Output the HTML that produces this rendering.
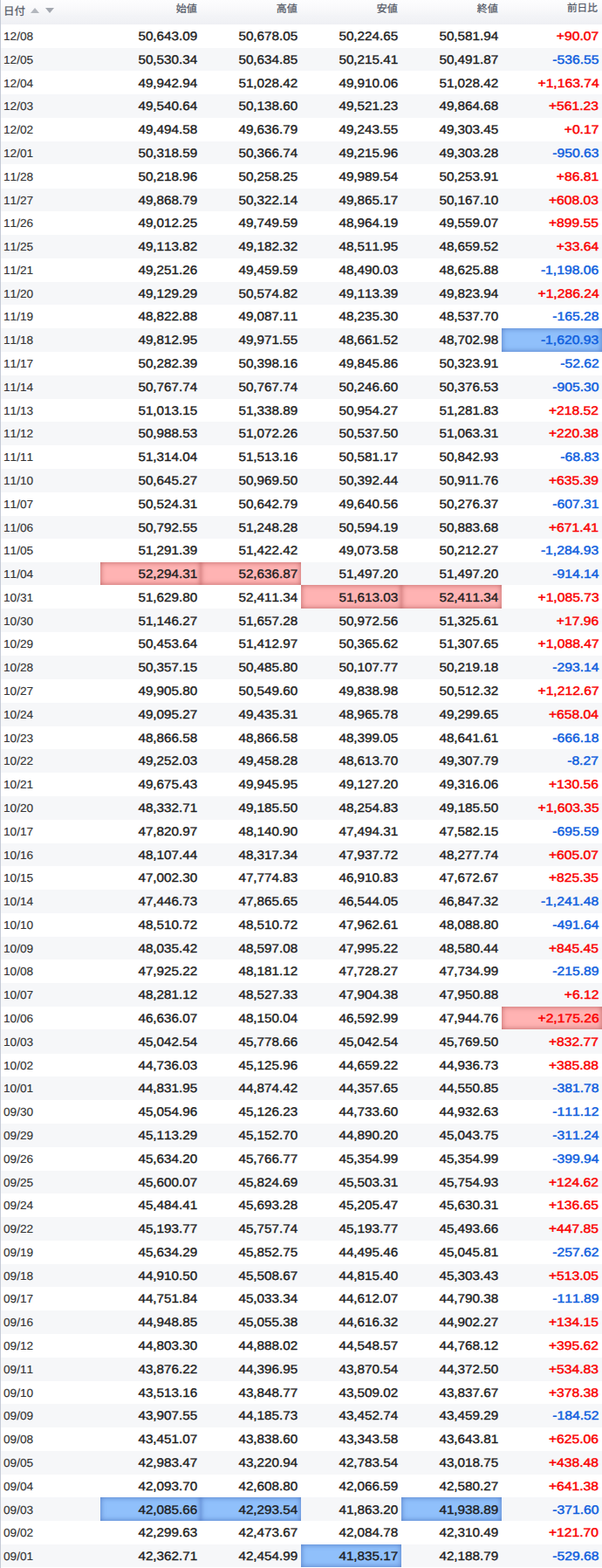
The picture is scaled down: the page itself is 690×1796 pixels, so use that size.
<!DOCTYPE html><html><head><meta charset="utf-8"><title>table</title><style>
html,body{margin:0;padding:0;background:#fff;}
body{width:690px;height:1796px;overflow:hidden;font-family:"Liberation Sans",sans-serif;font-kerning:none;font-feature-settings:"kern" 0;text-rendering:geometricPrecision;}
#t{position:relative;width:690px;height:1796px;overflow:hidden;background:#fff;}
#lb{position:absolute;left:0;top:0;width:1px;height:1796px;background:#c4cad6;z-index:5;}
.h{position:absolute;left:0;top:0;width:690px;height:28px;background:linear-gradient(#fdfdfe 0%,#f9f9fb 35%,#f3f4f7 65%,#eff0f4 100%);}
.ht{position:absolute;font-family:"Liberation Sans","Noto Sans CJK JP",sans-serif;color:#555b68;white-space:nowrap;font-size:12px;line-height:12.3px;height:12.3px;-webkit-text-stroke:0.25px #555b68;}
.r{box-sizing:content-box;position:absolute;left:0;width:690px;line-height:26px;display:flex;white-space:nowrap;}
.r.e{background:#f6f7f9;}
.c{width:115px;box-sizing:border-box;text-align:right;padding-right:3.8px;font-size:14px;color:#1c1c1c;-webkit-text-stroke:0.36px;}
.c i{font-style:normal;display:inline-block;transform:scaleX(1.09);transform-origin:100% 50%;position:relative;top:calc(var(--o) + 0px);}
.c.p i,.c.m i{transform:scaleX(1.12);-webkit-text-stroke:0.45px;}
.d{width:115px;box-sizing:border-box;text-align:left;padding-left:4.0px;font-size:13px;color:#333;-webkit-text-stroke:0.12px;}
.d i{font-style:normal;display:inline-block;transform:scaleX(1.05);transform-origin:0 50%;position:relative;top:calc(var(--o) + 1px);}
.p{color:#fa0000;}
.m{color:#0e5ede;}
.hr{background:#ffb3b3;box-shadow:inset 0 0 6px rgba(120,20,20,.5);}
.hb{background:#90c0fb;box-shadow:inset 0 0 6px rgba(20,50,140,.5);}
</style></head><body><div id="t">
<div class="h"><span class="ht" style="top:7.4px;left:4.0px;font-size:12.4px;line-height:12.4px;height:12.4px;">日付</span><svg style="position:absolute;left:34.8px;top:9.1px" width="10" height="7" viewBox="0 0 10 7"><polygon points="0,6 5,0 10,6" fill="#b3b7be"/></svg><svg style="position:absolute;left:51.6px;top:9.1px" width="10" height="7" viewBox="0 0 10 7"><polygon points="0,0 10,0 5,6" fill="#a3a7af"/></svg><span class="ht" style="top:4.4px;right:464.2px;">始値</span><span class="ht" style="top:4.4px;right:349.2px;">高値</span><span class="ht" style="top:4.4px;right:234.2px;">安値</span><span class="ht" style="top:4.4px;right:119.2px;">終値</span><span class="ht" style="top:4.4px;right:5.2px;font-size:11.6px;">前日比</span></div>
<div class="r" style="top:28px;height:27px;--o:0px"><div class="d"><i>12/08</i></div><div class="c"><i>50,643.09</i></div><div class="c"><i>50,678.05</i></div><div class="c"><i>50,224.65</i></div><div class="c"><i>50,581.94</i></div><div class="c p"><i>+90.07</i></div></div>
<div class="r e" style="top:55px;height:26px;--o:0px"><div class="d"><i>12/05</i></div><div class="c"><i>50,530.34</i></div><div class="c"><i>50,634.85</i></div><div class="c"><i>50,215.41</i></div><div class="c"><i>50,491.87</i></div><div class="c m"><i>-536.55</i></div></div>
<div class="r" style="top:81px;height:27px;--o:1px"><div class="d"><i>12/04</i></div><div class="c"><i>49,942.94</i></div><div class="c"><i>51,028.42</i></div><div class="c"><i>49,910.06</i></div><div class="c"><i>51,028.42</i></div><div class="c p"><i>+1,163.74</i></div></div>
<div class="r e" style="top:108px;height:27px;--o:0px"><div class="d"><i>12/03</i></div><div class="c"><i>49,540.64</i></div><div class="c"><i>50,138.60</i></div><div class="c"><i>49,521.23</i></div><div class="c"><i>49,864.68</i></div><div class="c p"><i>+561.23</i></div></div>
<div class="r" style="top:135px;height:27px;--o:0px"><div class="d"><i>12/02</i></div><div class="c"><i>49,494.58</i></div><div class="c"><i>49,636.79</i></div><div class="c"><i>49,243.55</i></div><div class="c"><i>49,303.45</i></div><div class="c p"><i>+0.17</i></div></div>
<div class="r e" style="top:162px;height:26px;--o:0px"><div class="d"><i>12/01</i></div><div class="c"><i>50,318.59</i></div><div class="c"><i>50,366.74</i></div><div class="c"><i>49,215.96</i></div><div class="c"><i>49,303.28</i></div><div class="c m"><i>-950.63</i></div></div>
<div class="r" style="top:188px;height:28px;--o:1px"><div class="d"><i>11/28</i></div><div class="c"><i>50,218.96</i></div><div class="c"><i>50,258.25</i></div><div class="c"><i>49,989.54</i></div><div class="c"><i>50,253.91</i></div><div class="c p"><i>+86.81</i></div></div>
<div class="r e" style="top:216px;height:26px;--o:0px"><div class="d"><i>11/27</i></div><div class="c"><i>49,868.79</i></div><div class="c"><i>50,322.14</i></div><div class="c"><i>49,865.17</i></div><div class="c"><i>50,167.10</i></div><div class="c p"><i>+608.03</i></div></div>
<div class="r" style="top:242px;height:27px;--o:0px"><div class="d"><i>11/26</i></div><div class="c"><i>49,012.25</i></div><div class="c"><i>49,749.59</i></div><div class="c"><i>48,964.19</i></div><div class="c"><i>49,559.07</i></div><div class="c p"><i>+899.55</i></div></div>
<div class="r e" style="top:269px;height:27px;--o:0px"><div class="d"><i>11/25</i></div><div class="c"><i>49,113.82</i></div><div class="c"><i>49,182.32</i></div><div class="c"><i>48,511.95</i></div><div class="c"><i>48,659.52</i></div><div class="c p"><i>+33.64</i></div></div>
<div class="r" style="top:296px;height:27px;--o:0px"><div class="d"><i>11/21</i></div><div class="c"><i>49,251.26</i></div><div class="c"><i>49,459.59</i></div><div class="c"><i>48,490.03</i></div><div class="c"><i>48,625.88</i></div><div class="c m"><i>-1,198.06</i></div></div>
<div class="r e" style="top:323px;height:26px;--o:0px"><div class="d"><i>11/20</i></div><div class="c"><i>49,129.29</i></div><div class="c"><i>50,574.82</i></div><div class="c"><i>49,113.39</i></div><div class="c"><i>49,823.94</i></div><div class="c p"><i>+1,286.24</i></div></div>
<div class="r" style="top:349px;height:27px;--o:0px"><div class="d"><i>11/19</i></div><div class="c"><i>48,822.88</i></div><div class="c"><i>49,087.11</i></div><div class="c"><i>48,235.30</i></div><div class="c"><i>48,537.70</i></div><div class="c m"><i>-165.28</i></div></div>
<div class="r e" style="top:376px;height:27px;--o:0px"><div class="d"><i>11/18</i></div><div class="c"><i>49,812.95</i></div><div class="c"><i>49,971.55</i></div><div class="c"><i>48,661.52</i></div><div class="c"><i>48,702.98</i></div><div class="c m hb"><i>-1,620.93</i></div></div>
<div class="r" style="top:403px;height:27px;--o:0px"><div class="d"><i>11/17</i></div><div class="c"><i>50,282.39</i></div><div class="c"><i>50,398.16</i></div><div class="c"><i>49,845.86</i></div><div class="c"><i>50,323.91</i></div><div class="c m"><i>-52.62</i></div></div>
<div class="r e" style="top:430px;height:27px;--o:0px"><div class="d"><i>11/14</i></div><div class="c"><i>50,767.74</i></div><div class="c"><i>50,767.74</i></div><div class="c"><i>50,246.60</i></div><div class="c"><i>50,376.53</i></div><div class="c m"><i>-905.30</i></div></div>
<div class="r" style="top:457px;height:26px;--o:0px"><div class="d"><i>11/13</i></div><div class="c"><i>51,013.15</i></div><div class="c"><i>51,338.89</i></div><div class="c"><i>50,954.27</i></div><div class="c"><i>51,281.83</i></div><div class="c p"><i>+218.52</i></div></div>
<div class="r e" style="top:483px;height:27px;--o:0px"><div class="d"><i>11/12</i></div><div class="c"><i>50,988.53</i></div><div class="c"><i>51,072.26</i></div><div class="c"><i>50,537.50</i></div><div class="c"><i>51,063.31</i></div><div class="c p"><i>+220.38</i></div></div>
<div class="r" style="top:510px;height:27px;--o:0px"><div class="d"><i>11/11</i></div><div class="c"><i>51,314.04</i></div><div class="c"><i>51,513.16</i></div><div class="c"><i>50,581.17</i></div><div class="c"><i>50,842.93</i></div><div class="c m"><i>-68.83</i></div></div>
<div class="r e" style="top:537px;height:27px;--o:0px"><div class="d"><i>11/10</i></div><div class="c"><i>50,645.27</i></div><div class="c"><i>50,969.50</i></div><div class="c"><i>50,392.44</i></div><div class="c"><i>50,911.76</i></div><div class="c p"><i>+635.39</i></div></div>
<div class="r" style="top:564px;height:27px;--o:0px"><div class="d"><i>11/07</i></div><div class="c"><i>50,524.31</i></div><div class="c"><i>50,642.79</i></div><div class="c"><i>49,640.56</i></div><div class="c"><i>50,276.37</i></div><div class="c m"><i>-607.31</i></div></div>
<div class="r e" style="top:591px;height:26px;--o:0px"><div class="d"><i>11/06</i></div><div class="c"><i>50,792.55</i></div><div class="c"><i>51,248.28</i></div><div class="c"><i>50,594.19</i></div><div class="c"><i>50,883.68</i></div><div class="c p"><i>+671.41</i></div></div>
<div class="r" style="top:617px;height:27px;--o:0px"><div class="d"><i>11/05</i></div><div class="c"><i>51,291.39</i></div><div class="c"><i>51,422.42</i></div><div class="c"><i>49,073.58</i></div><div class="c"><i>50,212.27</i></div><div class="c m"><i>-1,284.93</i></div></div>
<div class="r e" style="top:644px;height:26px;--o:0px"><div class="d"><i>11/04</i></div><div class="c hr"><i>52,294.31</i></div><div class="c hr"><i>52,636.87</i></div><div class="c"><i>51,497.20</i></div><div class="c"><i>51,497.20</i></div><div class="c m"><i>-914.14</i></div></div>
<div class="r" style="top:670px;height:27px;--o:1px"><div class="d"><i>10/31</i></div><div class="c"><i>51,629.80</i></div><div class="c"><i>52,411.34</i></div><div class="c hr"><i>51,613.03</i></div><div class="c hr"><i>52,411.34</i></div><div class="c p"><i>+1,085.73</i></div></div>
<div class="r e" style="top:697px;height:27px;--o:1px"><div class="d"><i>10/30</i></div><div class="c"><i>51,146.27</i></div><div class="c"><i>51,657.28</i></div><div class="c"><i>50,972.56</i></div><div class="c"><i>51,325.61</i></div><div class="c p"><i>+17.96</i></div></div>
<div class="r" style="top:724px;height:27px;--o:0px"><div class="d"><i>10/29</i></div><div class="c"><i>50,453.64</i></div><div class="c"><i>51,412.97</i></div><div class="c"><i>50,365.62</i></div><div class="c"><i>51,307.65</i></div><div class="c p"><i>+1,088.47</i></div></div>
<div class="r e" style="top:751px;height:27px;--o:0px"><div class="d"><i>10/28</i></div><div class="c"><i>50,357.15</i></div><div class="c"><i>50,485.80</i></div><div class="c"><i>50,107.77</i></div><div class="c"><i>50,219.18</i></div><div class="c m"><i>-293.14</i></div></div>
<div class="r" style="top:778px;height:27px;--o:0px"><div class="d"><i>10/27</i></div><div class="c"><i>49,905.80</i></div><div class="c"><i>50,549.60</i></div><div class="c"><i>49,838.98</i></div><div class="c"><i>50,512.32</i></div><div class="c p"><i>+1,212.67</i></div></div>
<div class="r e" style="top:805px;height:27px;--o:0px"><div class="d"><i>10/24</i></div><div class="c"><i>49,095.27</i></div><div class="c"><i>49,435.31</i></div><div class="c"><i>48,965.78</i></div><div class="c"><i>49,299.65</i></div><div class="c p"><i>+658.04</i></div></div>
<div class="r" style="top:832px;height:26px;--o:0px"><div class="d"><i>10/23</i></div><div class="c"><i>48,866.58</i></div><div class="c"><i>48,866.58</i></div><div class="c"><i>48,399.05</i></div><div class="c"><i>48,641.61</i></div><div class="c m"><i>-666.18</i></div></div>
<div class="r e" style="top:858px;height:27px;--o:0px"><div class="d"><i>10/22</i></div><div class="c"><i>49,252.03</i></div><div class="c"><i>49,458.28</i></div><div class="c"><i>48,613.70</i></div><div class="c"><i>49,307.79</i></div><div class="c m"><i>-8.27</i></div></div>
<div class="r" style="top:885px;height:27px;--o:0px"><div class="d"><i>10/21</i></div><div class="c"><i>49,675.43</i></div><div class="c"><i>49,945.95</i></div><div class="c"><i>49,127.20</i></div><div class="c"><i>49,316.06</i></div><div class="c p"><i>+130.56</i></div></div>
<div class="r e" style="top:912px;height:27px;--o:0px"><div class="d"><i>10/20</i></div><div class="c"><i>48,332.71</i></div><div class="c"><i>49,185.50</i></div><div class="c"><i>48,254.83</i></div><div class="c"><i>49,185.50</i></div><div class="c p"><i>+1,603.35</i></div></div>
<div class="r" style="top:939px;height:27px;--o:0px"><div class="d"><i>10/17</i></div><div class="c"><i>47,820.97</i></div><div class="c"><i>48,140.90</i></div><div class="c"><i>47,494.31</i></div><div class="c"><i>47,582.15</i></div><div class="c m"><i>-695.59</i></div></div>
<div class="r e" style="top:966px;height:26px;--o:0px"><div class="d"><i>10/16</i></div><div class="c"><i>48,107.44</i></div><div class="c"><i>48,317.34</i></div><div class="c"><i>47,937.72</i></div><div class="c"><i>48,277.74</i></div><div class="c p"><i>+605.07</i></div></div>
<div class="r" style="top:992px;height:27px;--o:0px"><div class="d"><i>10/15</i></div><div class="c"><i>47,002.30</i></div><div class="c"><i>47,774.83</i></div><div class="c"><i>46,910.83</i></div><div class="c"><i>47,672.67</i></div><div class="c p"><i>+825.35</i></div></div>
<div class="r e" style="top:1019px;height:27px;--o:0px"><div class="d"><i>10/14</i></div><div class="c"><i>47,446.73</i></div><div class="c"><i>47,865.65</i></div><div class="c"><i>46,544.05</i></div><div class="c"><i>46,847.32</i></div><div class="c m"><i>-1,241.48</i></div></div>
<div class="r" style="top:1046px;height:27px;--o:0px"><div class="d"><i>10/10</i></div><div class="c"><i>48,510.72</i></div><div class="c"><i>48,510.72</i></div><div class="c"><i>47,962.61</i></div><div class="c"><i>48,088.80</i></div><div class="c m"><i>-491.64</i></div></div>
<div class="r e" style="top:1073px;height:26px;--o:0px"><div class="d"><i>10/09</i></div><div class="c"><i>48,035.42</i></div><div class="c"><i>48,597.08</i></div><div class="c"><i>47,995.22</i></div><div class="c"><i>48,580.44</i></div><div class="c p"><i>+845.45</i></div></div>
<div class="r" style="top:1099px;height:27px;--o:0px"><div class="d"><i>10/08</i></div><div class="c"><i>47,925.22</i></div><div class="c"><i>48,181.12</i></div><div class="c"><i>47,728.27</i></div><div class="c"><i>47,734.99</i></div><div class="c m"><i>-215.89</i></div></div>
<div class="r e" style="top:1126px;height:27px;--o:0px"><div class="d"><i>10/07</i></div><div class="c"><i>48,281.12</i></div><div class="c"><i>48,527.33</i></div><div class="c"><i>47,904.38</i></div><div class="c"><i>47,950.88</i></div><div class="c p"><i>+6.12</i></div></div>
<div class="r" style="top:1153px;height:26px;--o:0px"><div class="d"><i>10/06</i></div><div class="c"><i>46,636.07</i></div><div class="c"><i>48,150.04</i></div><div class="c"><i>46,592.99</i></div><div class="c"><i>47,944.76</i></div><div class="c p hr"><i>+2,175.26</i></div></div>
<div class="r e" style="top:1179px;height:28px;--o:1px"><div class="d"><i>10/03</i></div><div class="c"><i>45,042.54</i></div><div class="c"><i>45,778.66</i></div><div class="c"><i>45,042.54</i></div><div class="c"><i>45,769.50</i></div><div class="c p"><i>+832.77</i></div></div>
<div class="r" style="top:1207px;height:26px;--o:0px"><div class="d"><i>10/02</i></div><div class="c"><i>44,736.03</i></div><div class="c"><i>45,125.96</i></div><div class="c"><i>44,659.22</i></div><div class="c"><i>44,936.73</i></div><div class="c p"><i>+385.88</i></div></div>
<div class="r e" style="top:1233px;height:27px;--o:0px"><div class="d"><i>10/01</i></div><div class="c"><i>44,831.95</i></div><div class="c"><i>44,874.42</i></div><div class="c"><i>44,357.65</i></div><div class="c"><i>44,550.85</i></div><div class="c m"><i>-381.78</i></div></div>
<div class="r" style="top:1260px;height:27px;--o:0px"><div class="d"><i>09/30</i></div><div class="c"><i>45,054.96</i></div><div class="c"><i>45,126.23</i></div><div class="c"><i>44,733.60</i></div><div class="c"><i>44,932.63</i></div><div class="c m"><i>-111.12</i></div></div>
<div class="r e" style="top:1287px;height:27px;--o:0px"><div class="d"><i>09/29</i></div><div class="c"><i>45,113.29</i></div><div class="c"><i>45,152.70</i></div><div class="c"><i>44,890.20</i></div><div class="c"><i>45,043.75</i></div><div class="c m"><i>-311.24</i></div></div>
<div class="r" style="top:1314px;height:27px;--o:0px"><div class="d"><i>09/26</i></div><div class="c"><i>45,634.20</i></div><div class="c"><i>45,766.77</i></div><div class="c"><i>45,354.99</i></div><div class="c"><i>45,354.99</i></div><div class="c m"><i>-399.94</i></div></div>
<div class="r e" style="top:1341px;height:26px;--o:0px"><div class="d"><i>09/25</i></div><div class="c"><i>45,600.07</i></div><div class="c"><i>45,824.69</i></div><div class="c"><i>45,503.31</i></div><div class="c"><i>45,754.93</i></div><div class="c p"><i>+124.62</i></div></div>
<div class="r" style="top:1367px;height:27px;--o:0px"><div class="d"><i>09/24</i></div><div class="c"><i>45,484.41</i></div><div class="c"><i>45,693.28</i></div><div class="c"><i>45,205.47</i></div><div class="c"><i>45,630.31</i></div><div class="c p"><i>+136.65</i></div></div>
<div class="r e" style="top:1394px;height:27px;--o:0px"><div class="d"><i>09/22</i></div><div class="c"><i>45,193.77</i></div><div class="c"><i>45,757.74</i></div><div class="c"><i>45,193.77</i></div><div class="c"><i>45,493.66</i></div><div class="c p"><i>+447.85</i></div></div>
<div class="r" style="top:1421px;height:27px;--o:0px"><div class="d"><i>09/19</i></div><div class="c"><i>45,634.29</i></div><div class="c"><i>45,852.75</i></div><div class="c"><i>44,495.46</i></div><div class="c"><i>45,045.81</i></div><div class="c m"><i>-257.62</i></div></div>
<div class="r e" style="top:1448px;height:26px;--o:0px"><div class="d"><i>09/18</i></div><div class="c"><i>44,910.50</i></div><div class="c"><i>45,508.67</i></div><div class="c"><i>44,815.40</i></div><div class="c"><i>45,303.43</i></div><div class="c p"><i>+513.05</i></div></div>
<div class="r" style="top:1474px;height:27px;--o:0px"><div class="d"><i>09/17</i></div><div class="c"><i>44,751.84</i></div><div class="c"><i>45,033.34</i></div><div class="c"><i>44,612.07</i></div><div class="c"><i>44,790.38</i></div><div class="c m"><i>-111.89</i></div></div>
<div class="r e" style="top:1501px;height:27px;--o:0px"><div class="d"><i>09/16</i></div><div class="c"><i>44,948.85</i></div><div class="c"><i>45,055.38</i></div><div class="c"><i>44,616.32</i></div><div class="c"><i>44,902.27</i></div><div class="c p"><i>+134.15</i></div></div>
<div class="r" style="top:1528px;height:27px;--o:0px"><div class="d"><i>09/12</i></div><div class="c"><i>44,803.30</i></div><div class="c"><i>44,888.02</i></div><div class="c"><i>44,548.57</i></div><div class="c"><i>44,768.12</i></div><div class="c p"><i>+395.62</i></div></div>
<div class="r e" style="top:1555px;height:27px;--o:0px"><div class="d"><i>09/11</i></div><div class="c"><i>43,876.22</i></div><div class="c"><i>44,396.95</i></div><div class="c"><i>43,870.54</i></div><div class="c"><i>44,372.50</i></div><div class="c p"><i>+534.83</i></div></div>
<div class="r" style="top:1582px;height:26px;--o:0px"><div class="d"><i>09/10</i></div><div class="c"><i>43,513.16</i></div><div class="c"><i>43,848.77</i></div><div class="c"><i>43,509.02</i></div><div class="c"><i>43,837.67</i></div><div class="c p"><i>+378.38</i></div></div>
<div class="r e" style="top:1608px;height:27px;--o:0px"><div class="d"><i>09/09</i></div><div class="c"><i>43,907.55</i></div><div class="c"><i>44,185.73</i></div><div class="c"><i>43,452.74</i></div><div class="c"><i>43,459.29</i></div><div class="c m"><i>-184.52</i></div></div>
<div class="r" style="top:1635px;height:27px;--o:0px"><div class="d"><i>09/08</i></div><div class="c"><i>43,451.07</i></div><div class="c"><i>43,838.60</i></div><div class="c"><i>43,343.58</i></div><div class="c"><i>43,643.81</i></div><div class="c p"><i>+625.06</i></div></div>
<div class="r e" style="top:1662px;height:27px;--o:0px"><div class="d"><i>09/05</i></div><div class="c"><i>42,983.47</i></div><div class="c"><i>43,220.94</i></div><div class="c"><i>42,783.54</i></div><div class="c"><i>43,018.75</i></div><div class="c p"><i>+438.48</i></div></div>
<div class="r" style="top:1689px;height:26px;--o:0px"><div class="d"><i>09/04</i></div><div class="c"><i>42,093.70</i></div><div class="c"><i>42,608.80</i></div><div class="c"><i>42,066.59</i></div><div class="c"><i>42,580.27</i></div><div class="c p"><i>+641.38</i></div></div>
<div class="r e" style="top:1715px;height:27px;--o:1px"><div class="d"><i>09/03</i></div><div class="c hb"><i>42,085.66</i></div><div class="c hb"><i>42,293.54</i></div><div class="c"><i>41,863.20</i></div><div class="c hb"><i>41,938.89</i></div><div class="c m"><i>-371.60</i></div></div>
<div class="r" style="top:1742px;height:27px;--o:0px"><div class="d"><i>09/02</i></div><div class="c"><i>42,299.63</i></div><div class="c"><i>42,473.67</i></div><div class="c"><i>42,084.78</i></div><div class="c"><i>42,310.49</i></div><div class="c p"><i>+121.70</i></div></div>
<div class="r e" style="top:1769px;height:26px;--o:0px"><div class="d"><i>09/01</i></div><div class="c"><i>42,362.71</i></div><div class="c"><i>42,454.99</i></div><div class="c hb"><i>41,835.17</i></div><div class="c"><i>42,188.79</i></div><div class="c m"><i>-529.68</i></div></div>
<div id="lb"></div></div></body></html>
